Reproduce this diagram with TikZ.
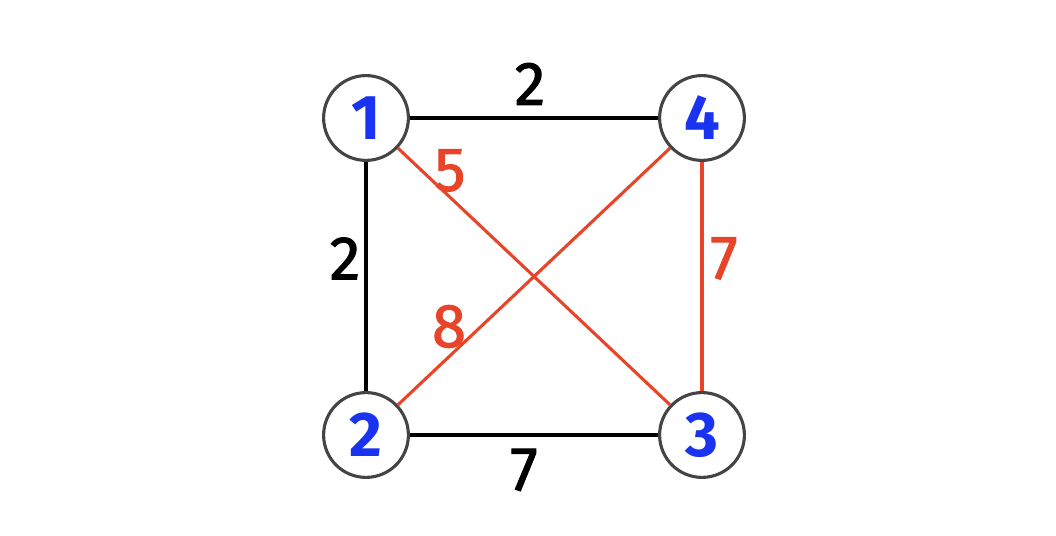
\documentclass[tikz,border=0pt]{standalone}
\usepackage{fontspec}
\setmainfont{Fira Sans}
\newfontfamily\medfont[FakeBold=1.6]{Fira Sans}
\usetikzlibrary{positioning}
\definecolor{vblue}{HTML}{1A33F0}
\definecolor{ered}{HTML}{E8442A}
\definecolor{ring}{HTML}{444444}

\begin{document}
\begin{tikzpicture}[
    vertex/.style={draw=ring, circle, line width=2.2pt, fill=white, minimum size=2.12cm, inner sep=0pt,
        text=vblue, font=\fontsize{45}{50}\selectfont\bfseries},
    edge/.style={line width=2.2pt},
    hot/.style={draw=ered, line width=2.2pt},
    weight/.style={inner sep=0pt, font=\fontsize{44}{50}\selectfont\medfont}
]
\useasboundingbox (0,0) rectangle (26.4,13.4);
% vertices
\node (v1) [vertex] at (9.15,10.45) {1};
\node (v4) [vertex] at (17.55,10.45) {4};
\node (v2) [vertex] at (9.15,2.525) {2};
\node (v3) [vertex] at (17.55,2.525) {3};
% edges
\draw[edge] (v1) -- node[weight, xshift=-0.1cm, yshift=0.85cm] {2} (v4);
\draw[edge] (v1) -- node[weight, xshift=-0.525cm, yshift=0.45cm] {2} (v2);
\draw[edge] (v2) -- node[weight, xshift=-0.25cm, yshift=-0.875cm] {7} (v3);
\draw[hot] (v1) -- node[weight, text=ered, xshift=-2.1cm, yshift=2.65cm] {5} (v3);
\draw[hot] (v2) -- node[weight, text=ered, xshift=-2.125cm, yshift=-1.25cm] {8} (v4);
\draw[hot] (v4) -- node[weight, text=ered, xshift=0.55cm, yshift=0.45cm] {7} (v3);
\end{tikzpicture}
\end{document}
